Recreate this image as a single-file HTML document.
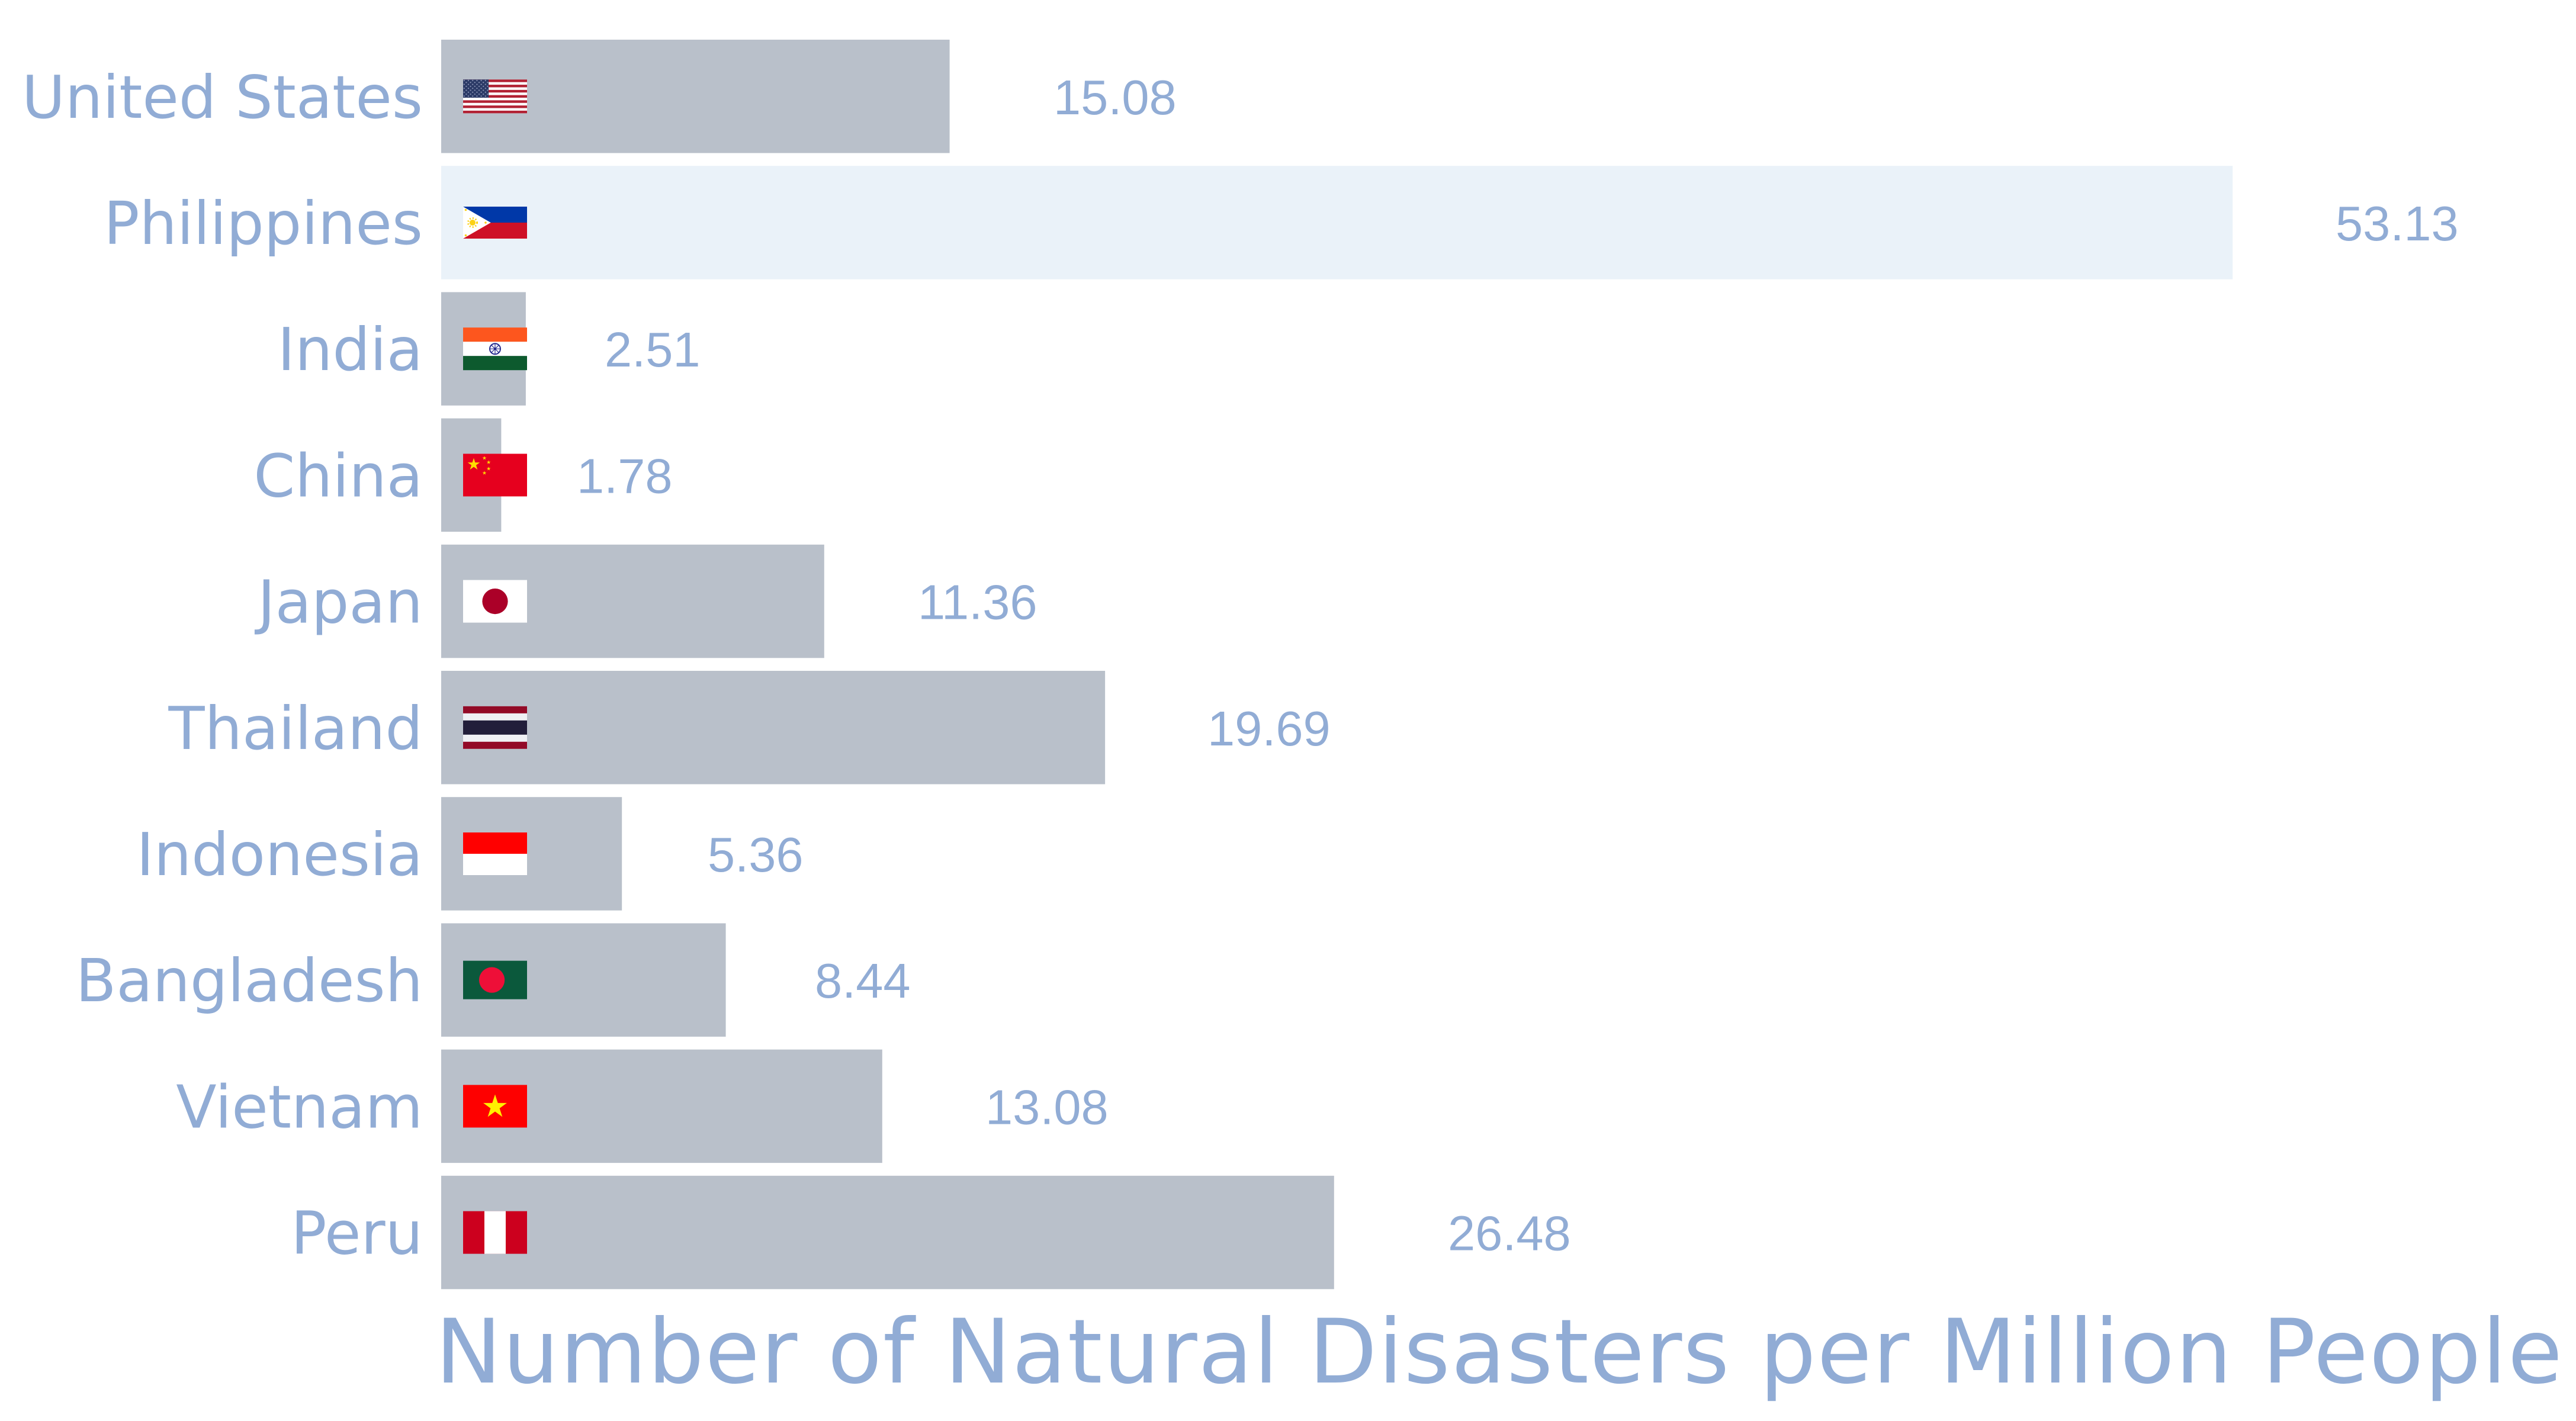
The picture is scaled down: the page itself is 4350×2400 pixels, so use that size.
<!DOCTYPE html>
<html>
<head>
<meta charset="utf-8">
<style>
  html, body { margin: 0; padding: 0; background: #ffffff; }
  body { width: 4350px; height: 2400px; overflow: hidden; position: relative; }
  svg { position: absolute; left: 0; top: 0; }
  .lbl { font-family: "DejaVu Sans", "Liberation Sans", sans-serif; font-size: 100px; fill: #91acd5; }
  .val { font-family: "Liberation Sans", "DejaVu Sans", sans-serif; font-size: 83px; fill: #91acd5; }
  .ttl { font-family: "DejaVu Sans", "Liberation Sans", sans-serif; font-size: 150px; fill: #91acd5; letter-spacing: 1.75px; }
</style>
</head>
<body>
<svg width="4350" height="2400" viewBox="0 0 4350 2400" xmlns="http://www.w3.org/2000/svg">
  <defs>
    <polygon id="star" points="0,-1 0.2245,-0.309 0.9511,-0.309 0.3633,0.118 0.5878,0.809 0,0.382 -0.5878,0.809 -0.3633,0.118 -0.9511,-0.309 -0.2245,-0.309"/>
    <pattern id="usstars" x="0" y="0" width="7.2" height="6.6" patternUnits="userSpaceOnUse">
      <rect width="7.2" height="6.6" fill="#2b3a66"/>
      <circle cx="1.8" cy="1.65" r="1.1" fill="#8d97b8"/>
      <circle cx="5.4" cy="4.95" r="1.1" fill="#8d97b8"/>
    </pattern>
  </defs>

  <rect x="0" y="0" width="4350" height="2400" fill="#ffffff"/>

  <!-- Bars -->
  <rect x="745" y="67" width="858.6" height="191.5" fill="#b9c0ca"/>
  <rect x="745" y="280.2" width="3025.2" height="191.5" fill="#eaf2f9"/>
  <rect x="745" y="493.4" width="142.9" height="191.5" fill="#b9c0ca"/>
  <rect x="745" y="706.6" width="101.4" height="191.5" fill="#b9c0ca"/>
  <rect x="745" y="919.8" width="646.8" height="191.5" fill="#b9c0ca"/>
  <rect x="745" y="1133" width="1121.1" height="191.5" fill="#b9c0ca"/>
  <rect x="745" y="1346.2" width="305.2" height="191.5" fill="#b9c0ca"/>
  <rect x="745" y="1559.4" width="480.6" height="191.5" fill="#b9c0ca"/>
  <rect x="745" y="1772.6" width="744.8" height="191.5" fill="#b9c0ca"/>
  <rect x="745" y="1985.8" width="1507.8" height="191.5" fill="#b9c0ca"/>

  <!-- Country labels -->
  <text class="lbl" x="714" y="198.75" text-anchor="end">United States</text>
  <text class="lbl" x="714" y="411.95" text-anchor="end">Philippines</text>
  <text class="lbl" x="714" y="625.15" text-anchor="end">India</text>
  <text class="lbl" x="714" y="838.35" text-anchor="end">China</text>
  <text class="lbl" x="714" y="1051.55" text-anchor="end">Japan</text>
  <text class="lbl" x="714" y="1264.75" text-anchor="end">Thailand</text>
  <text class="lbl" x="714" y="1477.95" text-anchor="end">Indonesia</text>
  <text class="lbl" x="714" y="1691.15" text-anchor="end">Bangladesh</text>
  <text class="lbl" x="714" y="1904.35" text-anchor="end">Vietnam</text>
  <text class="lbl" x="714" y="2117.55" text-anchor="end">Peru</text>

  <!-- Value labels -->
  <text class="val" x="1779" y="192.75">15.08</text>
  <text class="val" x="3944" y="405.95">53.13</text>
  <text class="val" x="1021" y="619.15">2.51</text>
  <text class="val" x="974" y="832.35">1.78</text>
  <text class="val" x="1550" y="1045.55">11.36</text>
  <text class="val" x="2039" y="1258.75">19.69</text>
  <text class="val" x="1195" y="1471.95">5.36</text>
  <text class="val" x="1376" y="1685.15">8.44</text>
  <text class="val" x="1664" y="1898.35">13.08</text>
  <text class="val" x="2445" y="2111.55">26.48</text>

  <!-- Flags -->
  <g transform="translate(782,134.3)">
    <rect width="108" height="57" fill="#ffffff"/>
    <rect y="0" width="108" height="4.385" fill="#b22234"/>
    <rect y="8.77" width="108" height="4.385" fill="#b22234"/>
    <rect y="17.54" width="108" height="4.385" fill="#b22234"/>
    <rect y="26.31" width="108" height="4.385" fill="#b22234"/>
    <rect y="35.08" width="108" height="4.385" fill="#b22234"/>
    <rect y="43.85" width="108" height="4.385" fill="#b22234"/>
    <rect y="52.62" width="108" height="4.385" fill="#b22234"/>
    <rect width="43.2" height="30.7" fill="url(#usstars)"/>
  </g>
  <g transform="translate(782,349)">
    <rect width="108" height="27" fill="#0038a8"/>
    <rect y="27" width="108" height="27" fill="#ce1126"/>
    <polygon points="0,0 46.8,27 0,54" fill="#ffffff"/>
    <circle cx="16" cy="27" r="7.5" fill="none" stroke="#fcd116" stroke-width="3" stroke-dasharray="2 3"/>
    <circle cx="16" cy="27" r="5" fill="#fcd116"/>
    <circle cx="4.5" cy="5.5" r="1.8" fill="#fcd116"/>
    <circle cx="4.5" cy="48.5" r="1.8" fill="#fcd116"/>
    <circle cx="38" cy="27" r="1.8" fill="#fcd116"/>
  </g>
  <g transform="translate(782,553.2)">
    <rect width="108" height="24" fill="#fd561e"/>
    <rect y="24" width="108" height="24" fill="#ffffff"/>
    <rect y="48" width="108" height="24" fill="#0d5a2e"/>
    <circle cx="54" cy="36" r="9" fill="none" stroke="#262b8f" stroke-width="2"/>
    <g stroke="#262b8f" stroke-width="1.2">
      <line x1="54" y1="27" x2="54" y2="45"/>
      <line x1="45" y1="36" x2="63" y2="36"/>
      <line x1="47.6" y1="29.6" x2="60.4" y2="42.4"/>
      <line x1="60.4" y1="29.6" x2="47.6" y2="42.4"/>
    </g>
    <circle cx="54" cy="36" r="2.2" fill="#262b8f"/>
  </g>
  <g transform="translate(782,766.4)">
    <rect width="108" height="72" fill="#e6001e"/>
    <use href="#star" transform="translate(18,18) scale(10.8)" fill="#ffde00"/>
    <use href="#star" transform="translate(36,7.2) scale(3.6)" fill="#ffde00"/>
    <use href="#star" transform="translate(43.2,14.4) scale(3.6)" fill="#ffde00"/>
    <use href="#star" transform="translate(43.2,25.2) scale(3.6)" fill="#ffde00"/>
    <use href="#star" transform="translate(36,32.4) scale(3.6)" fill="#ffde00"/>
  </g>
  <g transform="translate(782,979.6)">
    <rect width="108" height="72" fill="#ffffff"/>
    <circle cx="54" cy="36" r="21.6" fill="#ab0028"/>
  </g>
  <g transform="translate(782,1192.8)">
    <rect width="108" height="72" fill="#f0f1f5"/>
    <rect y="0" width="108" height="12" fill="#930a27"/>
    <rect y="24" width="108" height="24" fill="#221e3a"/>
    <rect y="60" width="108" height="12" fill="#930a27"/>
  </g>
  <g transform="translate(782,1406)">
    <rect width="108" height="36" fill="#ff0000"/>
    <rect y="36" width="108" height="36" fill="#ffffff"/>
  </g>
  <g transform="translate(782,1622.65)">
    <rect width="108" height="65" fill="#0b593c"/>
    <circle cx="48.6" cy="32.5" r="21.6" fill="#ee0f38"/>
  </g>
  <g transform="translate(782,1832.4)">
    <rect width="108" height="72" fill="#fe0000"/>
    <use href="#star" transform="translate(54,37) scale(21)" fill="#ffef00"/>
  </g>
  <g transform="translate(782,2045.6)">
    <rect width="108" height="72" fill="#cc001e"/>
    <rect x="36" width="36" height="72" fill="#ffffff"/>
  </g>

  <!-- Axis title -->
  <text class="ttl" x="735" y="2335">Number of Natural Disasters per Million People</text>
</svg>
</body>
</html>
